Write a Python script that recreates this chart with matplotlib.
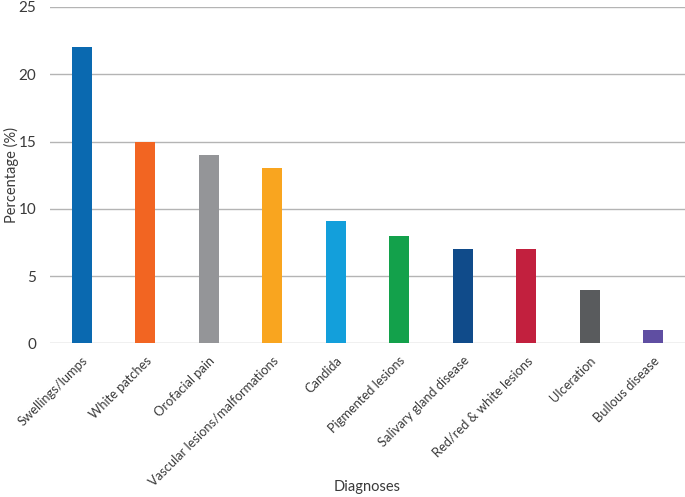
import matplotlib
matplotlib.use("Agg")
import matplotlib.pyplot as plt

categories = ["Swellings/lumps", "White patches", "Orofacial pain",
              "Vascular lesions/malformations", "Candida", "Pigmented lesions",
              "Salivary gland disease", "Red/red & white lesions", "Ulceration",
              "Bullous disease"]
values = [22, 15, 14, 13, 9.1, 8, 7, 7, 4, 1]
colors = ["#0a69b0", "#f26522", "#949598", "#f9a51f", "#139fdb", "#13a14b",
          "#104b8a", "#c2203e", "#595b5d", "#5f4ea2"]
yticks = [0, 5, 10, 15, 20, 25]

plt.rcParams['font.family'] = ['Lato', 'DejaVu Sans']
txt = "#3a3a3a"

fig = plt.figure(figsize=(6.85, 4.97), dpi=100)
ax = fig.add_axes([0.073, 0.309, 0.927, 0.677])
x = list(range(len(categories)))
ax.bar(x, values, width=0.31, color=colors, zorder=3)
ax.set_xlim(-0.5, len(categories) - 0.5)
ax.set_ylim(0, 25)
ax.set_yticks(yticks)
ax.yaxis.grid(True, color="#b4b4b4", linewidth=1.0, zorder=0)
for s in ax.spines.values():
    s.set_visible(False)
ax.tick_params(axis='y', length=0, labelsize=11, colors=txt, pad=10)
ax.tick_params(axis='x', length=0, labelsize=9.3, colors=txt, pad=8)
ax.set_xticks(x)
ax.set_xticklabels(categories, rotation=45, ha='right', va='top', rotation_mode='anchor')
fig.text(11 / 685, 1 - 175 / 497, "Percentage (%)", fontsize=10.5, color=txt,
         ha='center', va='center', rotation=90)
fig.text(367 / 685, 1 - 487 / 497, "Diagnoses", fontsize=10.5, color=txt,
         ha='center', va='center')
fig.savefig("out.png", dpi=100)
